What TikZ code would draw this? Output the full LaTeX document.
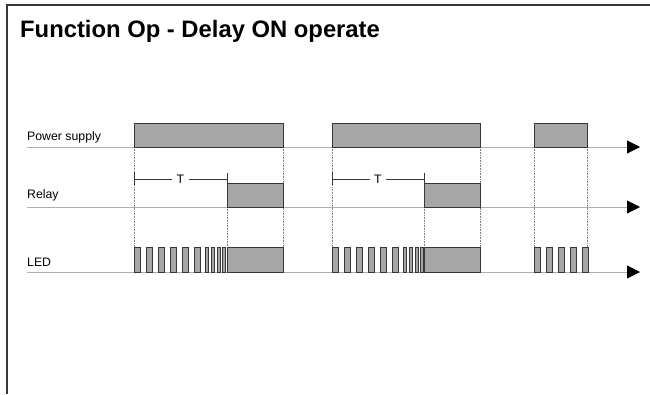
\documentclass[tikz,border=0pt]{standalone}
\usepackage{fontspec}
\setmainfont{Liberation Sans}
\usetikzlibrary{positioning,arrows.meta}
\definecolor{sig}{RGB}{166,166,166}
\definecolor{edge}{RGB}{55,55,55}
\definecolor{axis}{RGB}{175,175,175}

\begin{document}
\begin{tikzpicture}[x=1pt, y=-1pt,
  sigbox/.style={fill=sig, draw=edge, line width=0.8pt},
  timeaxis/.style={draw=axis, line width=0.9pt, -{Triangle[length=13pt, width=13pt, color=black]}},
  guide/.style={draw=gray, densely dotted, line width=0.6pt},
  lbl/.style={anchor=base west, inner sep=0pt, font=\fontsize{12.3}{14}\selectfont},
  delay/.style={draw=edge, line width=0.7pt}]
\useasboundingbox (0,0) rectangle (650,394);

% frame and title
\draw[edge, line width=1.8pt] (7,394) -- (7,5) -- (650,5);
\node[anchor=base west, inner sep=0pt, font=\bfseries\fontsize{23.8}{28}\selectfont] (title) at (20,37.5) {Function Op - Delay ON operate};

% signal names and time axes
\node[lbl] (power) at (27,140) {Power supply};
\node[lbl] (relay) at (27,198) {Relay};
\node[lbl] (led) at (27,266) {LED};
\coordinate (pwrA) at (27,147); \coordinate (pwrB) at (640,147);
\coordinate (relA) at (27,207); \coordinate (relB) at (640,207);
\coordinate (ledA) at (27,272); \coordinate (ledB) at (640,272);

% dotted guides
\foreach \x in {134,283,332,480,534,587}
  \draw[guide] (\x,147) -- (\x,247);
\foreach \x in {227,424}
  \draw[guide] (\x,207) -- (\x,247);

\draw[timeaxis] (pwrA) -- (pwrB);
\draw[timeaxis] (relA) -- (relB);
\draw[timeaxis] (ledA) -- (ledB);

% power supply
\draw[sigbox] (134,123) rectangle (283,147);
\draw[sigbox] (332,123) rectangle (480,147);
\draw[sigbox] (534,123) rectangle (587,147);

% relay
\draw[sigbox] (227,183) rectangle (283,207);
\draw[sigbox] (424,183) rectangle (480,207);

% delay T
\foreach \s/\e [count=\i] in {134/227, 332/424} {
  \coordinate (tS\i) at (\s,179);
  \coordinate (tE\i) at (\e,179);
  \draw[delay] (\s,172) -- (\s,185);
  \draw[delay] (\e,173) -- (\e,183);
  \draw[delay] (tS\i) -- node[fill=white, inner xsep=4.5pt, inner ysep=0pt, font=\fontsize{12.3}{14}\selectfont] (T\i) {T} (tE\i);
}

% LED flashing
\foreach \o/\r/\e in {134/227/283, 332/424/480} {
  \foreach \k in {0,...,5}
    \draw[sigbox] (\o+12*\k,247) rectangle +(6.7,25);
  \foreach \d in {71.3,77,83,88.3}
    \draw[sigbox] (\o+\d,247) rectangle +(3.4,25);
  \draw[sigbox] (\r,247) rectangle (\e,272);
}
\foreach \k in {0,...,4}
  \draw[sigbox] (534+12*\k,247) rectangle +(6,25);
\end{tikzpicture}
\end{document}
